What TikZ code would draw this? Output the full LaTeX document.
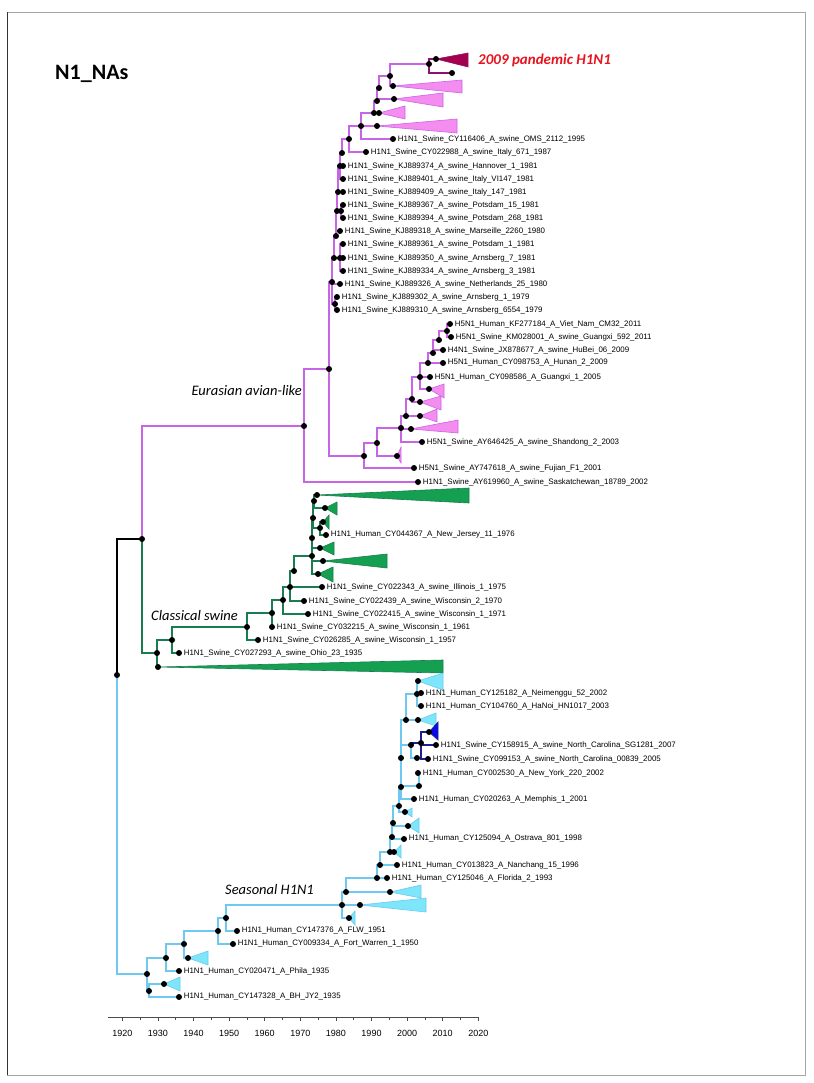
\documentclass[tikz,border=0pt]{standalone}
\usepackage{fontspec}
\setmainfont{Liberation Sans}
\newfontfamily\calfont{Carlito}
\pgfdeclarelayer{edges}
\pgfsetlayers{edges,main}

\definecolor{eurbr}{RGB}{200,100,230}
\definecolor{eurtri}{RGB}{245,140,240}
\definecolor{pdmbr}{RGB}{140,20,110}
\definecolor{pdmtri}{RGB}{165,0,80}
\definecolor{clsbr}{RGB}{25,125,80}
\definecolor{clstri}{RGB}{20,160,80}
\definecolor{seabr}{RGB}{110,200,240}
\definecolor{seatri}{RGB}{125,230,250}
\definecolor{ncbr}{RGB}{30,30,140}
\definecolor{nctri}{RGB}{10,10,230}
\definecolor{pdmred}{RGB}{230,20,30}

\tikzset{
  dot/.style={circle, fill=black, inner sep=0pt, minimum size=6pt},
  lab/.style={font=\fontsize{7.9}{9}\selectfont, inner sep=0.5pt},
  leaf/.style={dot, label={[lab, label distance=1pt]right:#1}},
  br/.style={line width=1.3pt, draw=#1},
  tri/.style={fill=#1tri, draw=#1br, line width=0.6pt},
  grp/.style={font=\calfont\itshape\fontsize{14.5}{16}\selectfont, inner sep=0pt},
  axis/.style={line width=0.6pt, draw=black!70}
}

% collapsed clade: apex node, right edge x, top y, bottom y, colour set
\newcommand\clade[5]{\filldraw[tri=#5] (#1.center) -- (#2,#3) -- (#2,#4) -- cycle;}

\begin{document}
\begin{tikzpicture}[x=1pt,y=-1pt]
\useasboundingbox (0,0) rectangle (813,1083);
\draw[gray!70, line width=0.8pt] (7,12) rectangle (805,1075);
\draw[black!80, line width=0.8pt] (7,12) -- (7,1075);

% Titles
\node[font=\calfont\bfseries\fontsize{22}{26}\selectfont, anchor=base west, inner sep=0pt] (title) at (55,80) {N1\_NAs};
\node[font=\calfont\bfseries\itshape\fontsize{15}{18}\selectfont, text=pdmred, anchor=base west, inner sep=0pt] (pdmlab) at (478,65) {2009 pandemic H1N1};
\node[grp, anchor=base east] (eurlab) at (302,395) {Eurasian avian-like};
\node[grp, anchor=base east] (clslab) at (238,620) {Classical swine};
\node[grp, anchor=base west] (sealab) at (225,894) {Seasonal H1N1};

% Root
\node[dot] (root) at (117,675) {};
\node[dot] (g0) at (142,539) {};

% Eurasian avian-like
\node[dot] (EU) at (304,426) {};
\node[dot] (EUa) at (329,369) {};
\node[dot] (e6) at (332,282) {};
\node[dot] (arnN) at (335,304) {};
\node[dot] (e5) at (334,258) {};
\node[dot] (ea) at (340,258) {};
\node[dot] (e4) at (336,236) {};
\node[dot] (e3) at (337,211) {};
\node[dot] (pn) at (341,211) {};
\node[dot] (e2) at (338,192) {};
\node[dot] (e1) at (340,166) {};
\node[dot] (N7) at (342,153) {};
\node[dot] (N6) at (349,139) {};
\node[dot] (N5) at (361,126) {};
\node[dot] (N4) at (374,113) {};
\node[dot] (N3) at (377,101) {};
\node[dot] (N2) at (379,88) {};
\node[dot] (N1) at (390,76) {};
\node[dot] (P0) at (429,64) {};
\node[dot] (pd) at (436,59) {};
\node[dot] (q) at (452,73) {};
\node[dot] (T1) at (393,86) {};
\node[dot] (T2) at (394,99) {};
\node[dot] (T3) at (379,113) {};
\node[dot] (T4) at (377,126) {};
\node[leaf=H1N1\_Swine\_CY116406\_A\_swine\_OMS\_2112\_1995] (OMS) at (393,139) {};
\node[leaf=H1N1\_Swine\_CY022988\_A\_swine\_Italy\_671\_1987] (It671) at (366,152) {};
\node[leaf=H1N1\_Swine\_KJ889374\_A\_swine\_Hannover\_1\_1981] (Hann) at (343,166) {};
\node[leaf=H1N1\_Swine\_KJ889401\_A\_swine\_Italy\_VI147\_1981] (VI147) at (343,179) {};
\node[leaf=H1N1\_Swine\_KJ889409\_A\_swine\_Italy\_147\_1981] (It147) at (343,192) {};
\node[leaf=H1N1\_Swine\_KJ889367\_A\_swine\_Potsdam\_15\_1981] (Po15) at (343,205) {};
\node[leaf=H1N1\_Swine\_KJ889394\_A\_swine\_Potsdam\_268\_1981] (Po268) at (343,218) {};
\node[leaf=H1N1\_Swine\_KJ889318\_A\_swine\_Marseille\_2260\_1980] (Mars) at (340,231) {};
\node[leaf=H1N1\_Swine\_KJ889361\_A\_swine\_Potsdam\_1\_1981] (Pot1) at (343,244) {};
\node[leaf=H1N1\_Swine\_KJ889350\_A\_swine\_Arnsberg\_7\_1981] (Ar7) at (343,258) {};
\node[leaf=H1N1\_Swine\_KJ889334\_A\_swine\_Arnsberg\_3\_1981] (Ar3) at (343,271) {};
\node[leaf=H1N1\_Swine\_KJ889326\_A\_swine\_Netherlands\_25\_1980] (NL) at (340,284) {};
\node[leaf=H1N1\_Swine\_KJ889302\_A\_swine\_Arnsberg\_1\_1979] (Ar1) at (337,297) {};
\node[leaf=H1N1\_Swine\_KJ889310\_A\_swine\_Arnsberg\_6554\_1979] (ArB) at (337,310) {};

% avian H5 clade
\node[dot] (H5a) at (364,456) {};
\node[dot] (h2) at (377,443) {};
\node[dot] (h3) at (401,428) {};
\node[dot] (h4) at (406,416) {};
\node[dot] (h6) at (412,399) {};
\node[dot] (h7) at (420,377) {};
\node[dot] (h8) at (428,363) {};
\node[dot] (h9) at (433,353) {};
\node[dot] (h10) at (439,340) {};
\node[dot] (h11) at (447,331) {};
\node[dot] (Ta) at (429,389) {};
\node[dot] (Tb) at (420,402) {};
\node[dot] (Tc) at (420,416) {};
\node[dot] (Td) at (411,429) {};
\node[dot] (Te) at (397,456) {};
\node[leaf=H5N1\_Human\_KF277184\_A\_Viet\_Nam\_CM32\_2011] (Viet) at (450,324) {};
\node[leaf=H5N1\_Swine\_KM028001\_A\_swine\_Guangxi\_592\_2011] (Gx592) at (451,337) {};
\node[leaf=H4N1\_Swine\_JX878677\_A\_swine\_HuBei\_06\_2009] (HuB) at (443,350) {};
\node[leaf=H5N1\_Human\_CY098753\_A\_Hunan\_2\_2009] (Hun) at (443,363) {};
\node[leaf=H5N1\_Human\_CY098586\_A\_Guangxi\_1\_2005] (G05) at (430,377) {};
\node[leaf=H5N1\_Swine\_AY646425\_A\_swine\_Shandong\_2\_2003] (Shan) at (422,442) {};
\node[leaf=H5N1\_Swine\_AY747618\_A\_swine\_Fujian\_F1\_2001] (Fuj) at (414,468) {};
\node[leaf=H1N1\_Swine\_AY619960\_A\_swine\_Saskatchewan\_18789\_2002] (Sask) at (418,482) {};

% Classical swine
\node[dot] (G1) at (157,653) {};
\node[dot] (G2) at (172,640) {};
\node[dot] (G3) at (247,627) {};
\node[dot] (G4) at (272,613) {};
\node[dot] (G5) at (283,600) {};
\node[dot] (G6) at (290,587) {};
\node[dot] (G7) at (294,571) {};
\node[dot] (G8) at (312,556) {};
\node[dot] (g9) at (312,538) {};
\node[dot] (g10) at (313,518) {};
\node[dot] (g11) at (320,528) {};
\node[dot] (g12) at (314,501) {};
\node[dot] (TGb) at (158,667) {};
\node[dot] (TG1) at (317,495) {};
\node[dot] (TG2) at (325,508) {};
\node[dot] (TG3) at (323,522) {};
\node[dot] (TG4) at (320,548) {};
\node[dot] (TG5) at (323,561) {};
\node[dot] (TG6) at (318,574) {};
\node[leaf=H1N1\_Human\_CY044367\_A\_New\_Jersey\_11\_1976] (NJ) at (326,535) {};
\node[leaf=H1N1\_Swine\_CY022343\_A\_swine\_Illinois\_1\_1975] (Ill) at (322,587) {};
\node[leaf=H1N1\_Swine\_CY022439\_A\_swine\_Wisconsin\_2\_1970] (W70) at (304,601) {};
\node[leaf=H1N1\_Swine\_CY022415\_A\_swine\_Wisconsin\_1\_1971] (W71) at (308,614) {};
\node[leaf=H1N1\_Swine\_CY032215\_A\_swine\_Wisconsin\_1\_1961] (W61) at (272,627) {};
\node[leaf=H1N1\_Swine\_CY026285\_A\_swine\_Wisconsin\_1\_1957] (W57) at (258,640) {};
\node[leaf=H1N1\_Swine\_CY027293\_A\_swine\_Ohio\_23\_1935] (Ohio) at (179,653) {};

% Seasonal H1N1
\node[dot] (b0) at (147,974) {};
\node[dot] (b1) at (166,958) {};
\node[dot] (b2) at (149,991) {};
\node[dot] (b3) at (184,944) {};
\node[dot] (b4) at (218,931) {};
\node[dot] (b5) at (226,918) {};
\node[dot] (b6) at (342,905) {};
\node[dot] (b7) at (346,892) {};
\node[dot] (b8) at (377,878) {};
\node[dot] (b9) at (380,865) {};
\node[dot] (b10) at (390,852) {};
\node[dot] (b11) at (392,837) {};
\node[dot] (b12) at (393,823) {};
\node[dot] (b13) at (399,806) {};
\node[dot] (b14) at (401,787) {};
\node[dot] (b15) at (401,758) {};
\node[dot] (b16) at (406,720) {};
\node[dot] (b17) at (417,694) {};
\node[dot] (c1) at (419,786) {};
\node[dot] (c2) at (411,745) {};
\node[dot] (c3) at (417,758) {};
\node[dot] (d1) at (421,743) {};
\node[dot] (TB1) at (164,984) {};
\node[dot] (TB2) at (188,958) {};
\node[dot] (TB3) at (360,905) {};
\node[dot] (TB4) at (349,918) {};
\node[dot] (TB5) at (390,892) {};
\node[dot] (TB6) at (394,852) {};
\node[dot] (TB7) at (405,812) {};
\node[dot] (TB8) at (408,826) {};
\node[dot] (TB9) at (418,681) {};
\node[dot] (TB10) at (418,720) {};
\node[dot] (TB11) at (429,732) {};
\node[leaf=H1N1\_Human\_CY125182\_A\_Neimenggu\_52\_2002] (Nei) at (421,693) {};
\node[leaf=H1N1\_Human\_CY104760\_A\_HaNoi\_HN1017\_2003] (HaN) at (421,706) {};
\node[leaf=H1N1\_Swine\_CY158915\_A\_swine\_North\_Carolina\_SG1281\_2007] (SG) at (436,745) {};
\node[leaf=H1N1\_Swine\_CY099153\_A\_swine\_North\_Carolina\_00839\_2005] (NC5) at (428,759) {};
\node[leaf=H1N1\_Human\_CY002530\_A\_New\_York\_220\_2002] (NY) at (418,773) {};
\node[leaf=H1N1\_Human\_CY020263\_A\_Memphis\_1\_2001] (Mem) at (414,799) {};
\node[leaf=H1N1\_Human\_CY125094\_A\_Ostrava\_801\_1998] (Ost) at (404,839) {};
\node[leaf=H1N1\_Human\_CY013823\_A\_Nanchang\_15\_1996] (Nan) at (397,865) {};
\node[leaf=H1N1\_Human\_CY125046\_A\_Florida\_2\_1993] (Flo) at (387,878) {};
\node[leaf=H1N1\_Human\_CY147376\_A\_FLW\_1951] (FLW) at (237,931) {};
\node[leaf=H1N1\_Human\_CY009334\_A\_Fort\_Warren\_1\_1950] (FW) at (233,944) {};
\node[leaf=H1N1\_Human\_CY020471\_A\_Phila\_1935] (Phila) at (179,971) {};
\node[leaf=H1N1\_Human\_CY147328\_A\_BH\_JY2\_1935] (BH) at (179,997) {};

\begin{pgfonlayer}{edges}
  % branches
  \draw[br=black] (root.center) |- (g0.center);
  \draw[br=seabr] (root.center) |- (b0.center);
  \draw[br=eurbr] (g0.center) |- (EU.center);
  \draw[br=clsbr] (g0.center) |- (G1.center);
  \foreach \p/\c in {EU/EUa, EU/Sask, EUa/e6, EUa/H5a, e6/e5, e6/NL, e6/arnN,
      arnN/Ar1, arnN/ArB, e5/ea, ea/Pot1, ea/Ar7, ea/Ar3, e5/e4, e4/e3, e4/Mars,
      e3/e2, e3/pn, pn/Po15, pn/Po268, e2/e1, e2/It147, e1/N7, e1/Hann, e1/VI147,
      N7/N6, N6/N5, N6/It671, N5/N4, N5/T4, N5/OMS, N4/N3, N4/T3, N3/N2, N3/T2,
      N2/N1, N1/T1, N1/P0,
      H5a/h2, H5a/Fuj, h2/h3, h2/Te, h3/h4, h3/Td, h3/Shan, h4/h6, h4/Tc, h6/h7,
      h6/Tb, h7/h8, h7/G05, h7/Ta, h8/h9, h8/Hun, h9/h10, h9/HuB, h10/h11,
      h11/Viet, h11/Gx592}
    \draw[br=eurbr] (\p.center) |- (\c.center);
  \foreach \p/\c in {P0/pd, P0/q}
    \draw[br=pdmbr] (\p.center) |- (\c.center);
  \foreach \p/\c in {G1/G2, G1/TGb, G2/G3, G2/Ohio, G3/G4, G3/W57, G4/G5, G4/W61,
      G5/G6, G5/W71, G6/G7, G6/Ill, G6/W70, G7/G8, G8/g9, G8/TG5, G8/TG6,
      g9/g10, g9/TG4, g10/g12, g10/g11, g11/TG3, g11/NJ, g12/TG1, g12/TG2}
    \draw[br=clsbr] (\p.center) |- (\c.center);
  \foreach \p/\c in {b0/b1, b0/b2, b2/TB1, b2/BH, b1/b3, b1/Phila, b3/b4, b3/TB2,
      b4/b5, b4/FW, b5/b6, b5/FLW, b6/b7, b6/TB3, b6/TB4, b7/b8, b7/TB5, b8/b9,
      b8/Flo, b9/b10, b9/Nan, b10/b11, b10/TB6, b11/b12, b11/Ost, b12/b13,
      b12/TB8, b13/b14, b13/TB7, b14/b15, b14/Mem, b14/c1, c1/NY, b15/b16,
      b15/c2, c2/c3, b16/b17, b16/TB10, b17/TB9, b17/Nei, b17/HaN}
    \draw[br=seabr] (\p.center) |- (\c.center);
  \foreach \p/\c in {c2/d1, d1/TB11, d1/SG, d1/NC5}
    \draw[br=ncbr] (\p.center) |- (\c.center);

  % collapsed clades
  \clade{pd}{468}{53}{67}{pdm}
  \clade{T1}{462}{80}{93}{eur}
  \clade{T2}{443}{93}{107}{eur}
  \clade{T3}{405}{106}{119}{eur}
  \clade{T4}{457}{119}{133}{eur}
  \clade{Ta}{444}{384}{398}{eur}
  \clade{Tb}{441}{396}{410}{eur}
  \clade{Tc}{437}{409}{422}{eur}
  \clade{Td}{458}{420}{433}{eur}
  \clade{Te}{401}{447}{463}{eur}
  \clade{TGb}{443}{660}{673}{cls}
  \clade{TG1}{469}{488}{503}{cls}
  \clade{TG2}{337}{502}{515}{cls}
  \clade{TG3}{329}{515}{529}{cls}
  \clade{TG4}{334}{542}{555}{cls}
  \clade{TG5}{387}{554}{568}{cls}
  \clade{TG6}{333}{567}{582}{cls}
  \clade{TB1}{180}{977}{991}{sea}
  \clade{TB2}{208}{951}{965}{sea}
  \clade{TB3}{426}{898}{912}{sea}
  \clade{TB4}{355}{911}{925}{sea}
  \clade{TB5}{421}{885}{898}{sea}
  \clade{TB6}{401}{845}{858}{sea}
  \clade{TB7}{412}{808}{817}{sea}
  \clade{TB8}{419}{818}{833}{sea}
  \clade{TB9}{443}{673}{690}{sea}
  \clade{TB10}{436}{713}{726}{sea}
  \clade{TB11}{438}{722}{740}{nc}
\end{pgfonlayer}

% Time axis
\draw[axis] (108,1017) -- (478,1017);
\foreach \yr in {1920,1930,...,2020}{
  \pgfmathsetmacro\tx{122.3+(\yr-1920)*3.56}
  \draw[axis] (\tx,1017) -- (\tx,1021);
  \node[font=\fontsize{9}{10}\selectfont] (yr\yr) at (\tx,1033) {\yr};
}
\foreach \yr in {1925,1935,...,2015}{
  \pgfmathsetmacro\tx{122.3+(\yr-1920)*3.56}
  \draw[axis] (\tx,1017) -- (\tx,1019.5);
}
\end{tikzpicture}
\end{document}
